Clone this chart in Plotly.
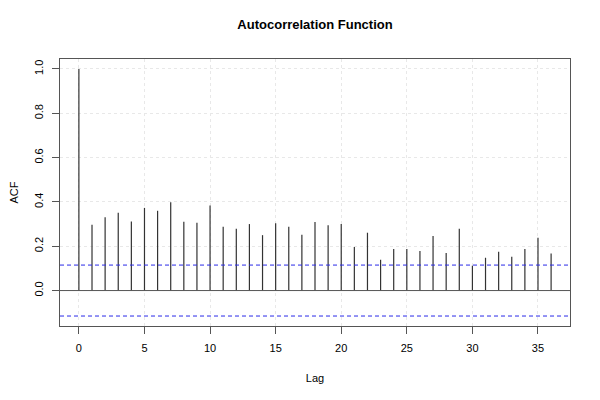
import plotly.graph_objects as go

lags = list(range(0, 37))
acf = [1.0, 0.297, 0.331, 0.351, 0.312, 0.373, 0.360, 0.399, 0.310, 0.306,
       0.384, 0.288, 0.279, 0.300, 0.250, 0.304, 0.288, 0.252, 0.309, 0.295,
       0.300, 0.197, 0.261, 0.139, 0.188, 0.188, 0.179, 0.246, 0.170, 0.279,
       0.112, 0.148, 0.175, 0.152, 0.188, 0.238, 0.167]
ci = 0.115
x_ticks = [0, 5, 10, 15, 20, 25, 30, 35]
y_ticks = [0.0, 0.2, 0.4, 0.6, 0.8, 1.0]
y_tick_labels = ["0.0", "0.2", "0.4", "0.6", "0.8", "1.0"]

xs, ys = [], []
for l, v in zip(lags, acf):
    xs += [l, l, None]
    ys += [0, v, None]

fig = go.Figure()
fig.add_trace(go.Scatter(x=xs, y=ys, mode="lines",
                         line=dict(color="#333333", width=1.2),
                         hoverinfo="skip", showlegend=False))

xr = [-1.44, 37.44]
fig.add_hline(y=0, line=dict(color="#555555", width=1))
fig.add_hline(y=ci, line=dict(color="#2a2ae8", width=1, dash="4px,3px"))
fig.add_hline(y=-ci, line=dict(color="#2a2ae8", width=1, dash="4px,3px"))

font = "Liberation Sans, Arial, Helvetica, sans-serif"
fig.update_layout(
    width=592, height=392,
    margin=dict(l=52, r=30, t=51, b=74, autoexpand=False),
    plot_bgcolor="white", paper_bgcolor="white",
    font=dict(family=font, size=11, color="black"),
    title=dict(text="<b>Autocorrelation Function</b>", x=0.5186, xanchor="center",
               y=0.959, yref="container", yanchor="middle",
               font=dict(size=13, family=font)),
    showlegend=False,
)
fig.update_xaxes(range=xr, tickvals=x_ticks, ticks="outside", ticklen=7,
                 tickcolor="#555555", showline=True, linecolor="#555555",
                 mirror=True, linewidth=1, showgrid=True, gridcolor="#e8e8e8",
                 griddash="dot", gridwidth=1, zeroline=False, automargin=False,
                 ticklabelstandoff=5,
                 title=dict(text="Lag", standoff=21, font=dict(size=11)))
fig.update_yaxes(range=[-0.16, 1.045], tickvals=y_ticks, ticktext=y_tick_labels,
                 ticks="outside", ticklen=7, tickangle=-90,
                 tickcolor="#555555", showline=True, linecolor="#555555",
                 mirror=True, linewidth=1, showgrid=True, gridcolor="#e8e8e8",
                 griddash="dot", gridwidth=1, zeroline=False, automargin=False,
                 ticklabelstandoff=5,
                 title=dict(text="ACF", standoff=20, font=dict(size=11)))

fig.write_html("out.html")
